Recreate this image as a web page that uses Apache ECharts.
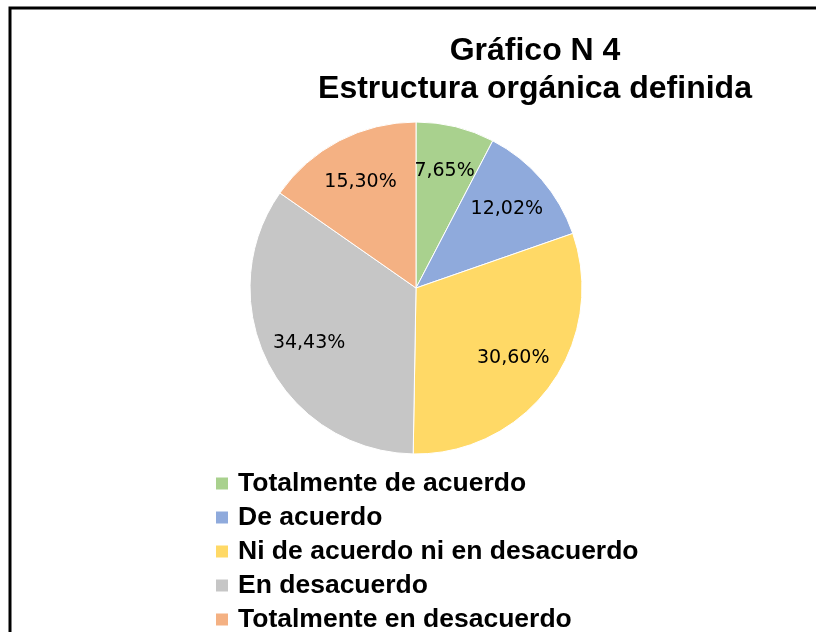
<!DOCTYPE html>
<html>
<head>
<meta charset="utf-8">
<script src="https://cdn.jsdelivr.net/npm/echarts@6/dist/echarts.min.js"></script>
<style>
  html, body { margin: 0; padding: 0; background: #fff; }
  #chart { width: 816px; height: 632px; }
</style>
</head>
<body>
<div id="chart"></div>
<script>
  // categorias y porcentajes del grafico
  var categories = ['Totalmente de acuerdo', 'De acuerdo', 'Ni de acuerdo ni en desacuerdo', 'En desacuerdo', 'Totalmente en desacuerdo'];
  var values = [7.65, 12.02, 30.60, 34.43, 15.30];
  var colors = ['#A9D18E', '#8FAADC', '#FFD966', '#C6C6C6', '#F4B183'];

  var pieData = categories.map(function (name, i) {
    return { name: name, value: values[i] };
  });

  var chart = echarts.init(document.getElementById('chart'));
  chart.setOption({
    animation: false,
    color: colors,
    title: {
      text: 'Gráfico N 4\nEstructura orgánica definida',
      left: 530,
      top: 27,
      textAlign: 'center',
      textStyle: {
        fontFamily: 'Liberation Sans, Arial, sans-serif',
        fontWeight: 'bold',
        fontSize: 32,
        lineHeight: 38,
        color: '#000'
      }
    },
    graphic: [{
      type: 'rect',
      shape: { x: 10, y: 8, width: 830, height: 660 },
      style: { fill: 'none', stroke: '#000', lineWidth: 3 },
      silent: true
    }],
    legend: {
      orient: 'vertical',
      left: 209,
      top: 465,
      height: 200,
      icon: 'rect',
      itemWidth: 14,
      itemHeight: 14,
      itemGap: 7,
      data: categories,
      textStyle: {
        fontFamily: 'Liberation Sans, Arial, sans-serif',
        fontWeight: 'bold',
        fontSize: 26.5,
        lineHeight: 26,
        color: '#000',
        padding: [0, 0, 0, 4]
      }
    },
    series: [
      {
        // sectores
        type: 'pie',
        center: [416, 288],
        radius: [0, 166],
        startAngle: 90,
        clockwise: true,
        data: pieData,
        itemStyle: { borderColor: '#fff', borderWidth: 1 },
        label: { show: false },
        labelLine: { show: false },
        emphasis: { disabled: true }
      },
      {
        // solo etiquetas, mas cerca del borde como en Excel
        type: 'pie',
        center: [416, 288],
        radius: [68, 166],
        startAngle: 90,
        clockwise: true,
        silent: true,
        data: pieData,
        itemStyle: { color: 'rgba(0,0,0,0)' },
        label: {
          show: true,
          position: 'inside',
          fontFamily: 'DejaVu Sans, sans-serif',
          fontSize: 19,
          color: '#000',
          formatter: function (p) {
            return p.value.toFixed(2).replace('.', ',') + '%';
          }
        },
        labelLine: { show: false },
        emphasis: { disabled: true }
      }
    ]
  });
</script>
</body>
</html>
